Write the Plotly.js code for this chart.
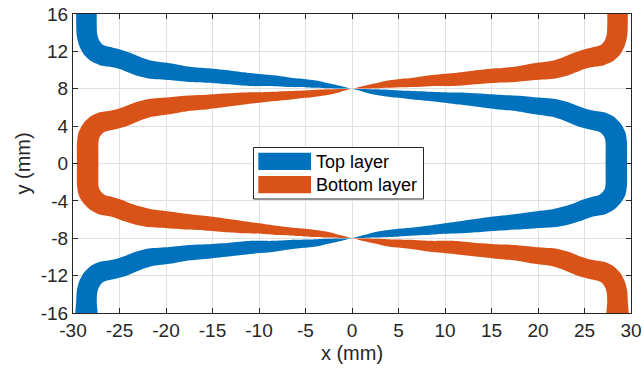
<!DOCTYPE html>
<html><head><meta charset="utf-8">
<script src="https://cdn.plot.ly/plotly-3.0.1.min.js"></script>
<style>html,body{margin:0;padding:0;background:#fff}#chart{width:644px;height:378px}</style>
</head><body><div id="chart"></div>
<script>
// Centre line of each band (mm) and band width (mm)
const blueX = [-28.55,-28.55,-28.5,-28.3,-27.95,-27.45,-26.8,-26.0,-25.1,-24.2,-23.1,-21.7,-19.5,-17.5,-15.5,-13.1,-11.0,-8.4,-6.6,-4.8,-3.7,-2.6,-1.2,0,
  1.2,2.35,4.14,5.94,7.72,9.52,11.67,13.3,15.5,17.5,19.5,21.7,23.1,24.2,25.1,26.0,26.8,27.45,27.95,28.3,28.42,28.42,
  28.42,28.3,27.95,27.45,26.8,26.0,25.1,24.2,23.1,21.7,19.5,17.5,15.5,13.3,11.67,9.52,7.72,5.94,4.14,2.35,1.2,0,
  -1.2,-2.6,-3.7,-4.8,-6.6,-8.4,-11.0,-13.1,-15.5,-17.5,-19.5,-21.7,-23.1,-24.2,-25.1,-26.0,-26.8,-27.45,-27.95,-28.3,-28.5,-28.55,-28.55];
const blueY = [16.4,14.8,13.8,13.0,12.35,11.85,11.55,11.4,11.2,10.9,10.45,10.05,9.82,9.54,9.41,9.2,8.98,8.86,8.68,8.57,8.48,8.32,8.16,8.0,
  7.83,7.66,7.5,7.36,7.23,7.1,6.95,6.8,6.59,6.46,6.2,5.95,5.55,5.1,4.8,4.6,4.45,4.15,3.65,3.0,2.2,0,
  -2.2,-3.0,-3.6,-4.1,-4.45,-4.6,-4.85,-5.2,-5.55,-5.85,-6.05,-6.25,-6.42,-6.65,-6.82,-7.0,-7.18,-7.33,-7.48,-7.65,-7.83,-8,
  -8.16,-8.32,-8.48,-8.57,-8.68,-8.86,-8.98,-9.2,-9.41,-9.54,-9.82,-10.05,-10.45,-10.9,-11.2,-11.4,-11.55,-11.85,-12.35,-13.0,-13.8,-14.8,-16.4];
const blueW = [2.2,2.2,2.2,2.2,2.2,2.17,2.15,2.1,2.05,2.02,2.0,1.93,1.8,1.65,1.55,1.47,1.4,1.17,1.0,0.86,0.76,0.54,0.27,0,
  0.28,0.56,0.76,0.84,0.96,1.08,1.3,1.42,1.55,1.65,1.8,1.93,2.0,2.02,2.05,2.1,2.15,2.2,2.25,2.3,2.3,2.3,
  2.3,2.3,2.25,2.2,2.15,2.1,2.05,2.02,2.0,1.93,1.8,1.65,1.55,1.42,1.3,1.08,0.96,0.84,0.76,0.56,0.28,0,
  0.27,0.54,0.76,0.86,1.0,1.17,1.4,1.47,1.55,1.65,1.8,1.93,2.0,2.02,2.05,2.1,2.15,2.17,2.2,2.2,2.2,2.2,2.2];

const orangeX = [28.55,28.55,28.5,28.3,27.95,27.45,26.8,26.0,25.1,24.2,23.1,21.7,19.5,17.5,15.5,13.1,11.0,8.4,6.6,4.8,3.7,2.6,1.2,0,
  -1.2,-2.35,-4.14,-5.94,-7.72,-9.52,-11.67,-13.3,-15.5,-17.5,-19.5,-21.7,-23.1,-24.2,-25.1,-26.0,-26.8,-27.45,-27.95,-28.3,-28.42,-28.42,
  -28.42,-28.3,-27.95,-27.45,-26.8,-26.0,-25.1,-24.2,-23.1,-21.7,-19.5,-17.5,-15.5,-13.3,-11.67,-9.52,-7.72,-5.94,-4.14,-2.35,-1.2,0,
  1.2,2.6,3.7,4.8,6.6,8.4,11.0,13.1,15.5,17.5,19.5,21.7,23.1,24.2,25.1,26.0,26.8,27.45,27.95,28.3,28.5,28.55,28.55];
const orangeY = [16.4,14.8,13.8,13.0,12.35,11.85,11.55,11.4,11.2,10.9,10.45,10.05,9.82,9.54,9.41,9.2,8.98,8.86,8.68,8.57,8.48,8.32,8.16,8.0,
  7.83,7.66,7.5,7.36,7.23,7.1,6.95,6.8,6.59,6.46,6.2,5.95,5.55,5.1,4.8,4.6,4.45,4.15,3.65,3.0,2.2,0,
  -2.2,-3.0,-3.6,-4.1,-4.45,-4.6,-4.85,-5.2,-5.55,-5.85,-6.05,-6.25,-6.42,-6.65,-6.82,-7.0,-7.18,-7.33,-7.48,-7.65,-7.83,-8,
  -8.16,-8.32,-8.48,-8.57,-8.68,-8.86,-8.98,-9.2,-9.41,-9.54,-9.82,-10.05,-10.45,-10.9,-11.2,-11.4,-11.55,-11.85,-12.35,-13.0,-13.8,-14.8,-16.4];
const orangeW = [2.2,2.2,2.2,2.2,2.2,2.17,2.15,2.1,2.05,2.02,2.0,1.93,1.8,1.65,1.55,1.47,1.4,1.17,1.0,0.86,0.76,0.54,0.27,0,
  0.28,0.56,0.76,0.84,0.96,1.08,1.3,1.42,1.55,1.65,1.8,1.93,2.0,2.02,2.05,2.1,2.15,2.2,2.25,2.3,2.3,2.3,
  2.3,2.3,2.25,2.2,2.15,2.1,2.05,2.02,2.0,1.93,1.8,1.65,1.55,1.42,1.3,1.08,0.96,0.84,0.76,0.56,0.28,0,
  0.27,0.54,0.76,0.86,1.0,1.17,1.4,1.47,1.55,1.65,1.8,1.93,2.0,2.02,2.05,2.1,2.15,2.17,2.2,2.2,2.2,2.2,2.2];

const seriesNames = ['Top layer', 'Bottom layer'];
const seriesColors = ['#0072BD', '#D95319'];
const xTicks = [-30,-25,-20,-15,-10,-5,0,5,10,15,20,25,30];
const yTicks = [-16,-12,-8,-4,0,4,8,12,16];

const M = {l:73, r:13, t:14, b:65};
const W = 644 - M.l - M.r, H = 378 - M.t - M.b;
const SX = W / 60, SY = H / 32;

function band(xs, ys, ws) {
  const n = Math.min(xs.length, ys.length, ws.length), L = [], R = [];
  for (let i = 0; i < n; i++) {
    const a = Math.max(0, i - 1), b = Math.min(n - 1, i + 1);
    let tx = (xs[b] - xs[a]) * SX, ty = (ys[b] - ys[a]) * SY;
    const len = Math.hypot(tx, ty) || 1; tx /= len; ty /= len;
    const nx = -ty, ny = tx;
    const h = ws[i] / 2 * (SX + SY) / 2;
    L.push([xs[i] + nx * h / SX, ys[i] + ny * h / SY]);
    R.push([xs[i] - nx * h / SX, ys[i] - ny * h / SY]);
  }
  const pts = L.concat(R.reverse());
  return {x: pts.map(p => p[0]), y: pts.map(p => p[1])};
}

const bands = [band(blueX, blueY, blueW), band(orangeX, orangeY, orangeW)];
const traces = bands.map((b, i) => ({
  type: 'scatter', mode: 'lines', x: b.x, y: b.y, fill: 'toself',
  fillcolor: seriesColors[i], line: {width: 0, color: seriesColors[i], shape: 'spline', smoothing: 0.7},
  name: seriesNames[i], showlegend: false, hoverinfo: 'skip'
}));

const FONT = 'Liberation Sans, Arial, Helvetica, sans-serif';
const AX = '#262626';
const px = v => (v - M.l) / W;
const py = v => 1 - (v - M.t) / H;

const shapes = [
  {type:'rect', xref:'paper', yref:'paper', x0:px(253.5), x1:px(423.5), y0:py(199), y1:py(147.5),
   line:{color:AX, width:1}, fillcolor:'#ffffff', layer:'above'},
  {type:'rect', xref:'paper', yref:'paper', x0:px(258.3), x1:px(311), y0:py(170), y1:py(152.7),
   line:{width:0}, fillcolor:seriesColors[0], layer:'above'},
  {type:'rect', xref:'paper', yref:'paper', x0:px(258.3), x1:px(311), y0:py(193.3), y1:py(176),
   line:{width:0}, fillcolor:seriesColors[1], layer:'above'}
];
const annotations = [
  {xref:'paper', yref:'paper', x:px(314), y:py(161.5), text:seriesNames[0], showarrow:false,
   xanchor:'left', yanchor:'middle', font:{family:FONT, size:18, color:'#000'}},
  {xref:'paper', yref:'paper', x:px(314), y:py(185), text:seriesNames[1], showarrow:false,
   xanchor:'left', yanchor:'middle', font:{family:FONT, size:18, color:'#000'}}
];

const axisCommon = {
  showgrid:true, gridcolor:'#e0e0e0', gridwidth:1, zeroline:false,
  showline:true, linecolor:AX, linewidth:1, mirror:'ticks',
  ticks:'inside', ticklen:5, tickcolor:AX, tickwidth:1,
  tickfont:{family:FONT, size:19, color:AX}, fixedrange:true
};

const layout = {
  width:644, height:378, margin:M, paper_bgcolor:'#fff', plot_bgcolor:'#fff',
  showlegend:false,
  xaxis: Object.assign({}, axisCommon, {
    range:[-30,30], tickmode:'array', tickvals:xTicks, ticktext:xTicks.map(String),
    title:{text:'x (mm)', font:{family:FONT, size:20, color:AX}, standoff:6}
  }),
  yaxis: Object.assign({}, axisCommon, {
    range:[-16,16], tickmode:'array', tickvals:yTicks, ticktext:yTicks.map(String),
    title:{text:'y (mm)', font:{family:FONT, size:20, color:AX}, standoff:4}
  }),
  shapes: shapes, annotations: annotations
};

Plotly.newPlot('chart', traces, layout, {staticPlot:true, displayModeBar:false});
</script></body></html>
